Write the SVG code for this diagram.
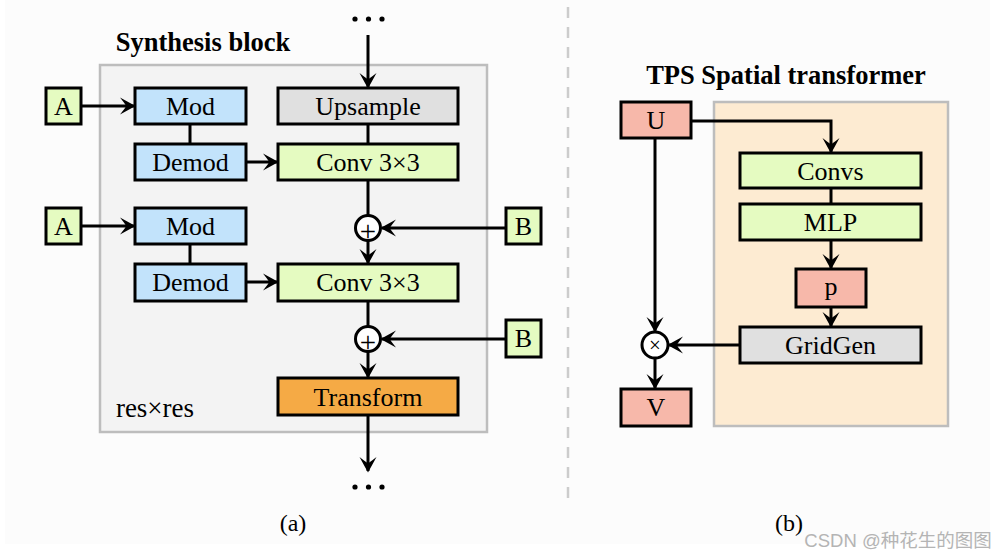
<svg xmlns="http://www.w3.org/2000/svg" width="994" height="558" viewBox="0 0 994 558">
<style>
.t{font-family:"Liberation Serif","Times New Roman",serif;font-size:26px;fill:#000;text-anchor:middle}
.tb{font-family:"Liberation Serif","Times New Roman",serif;font-size:26.5px;font-weight:bold;fill:#000;text-anchor:middle}
.box{stroke:#000;stroke-width:3}
.green{fill:#e5fbc1}
.blue{fill:#c2e3fb}
.gray{fill:#e0e0e0}
.orange{fill:#f5aa45}
.salmon{fill:#f7b8aa}
.ln{stroke:#000;stroke-width:3;fill:none}
.arr{stroke:#000;stroke-width:3;fill:none;marker-end:url(#ah)}
.plus{font-family:"Liberation Serif","Times New Roman",serif;font-size:29px;fill:#000;text-anchor:middle}
</style>
<defs>
<marker id="ah" markerUnits="userSpaceOnUse" viewBox="-17 -10 19 20" refX="0" refY="0" markerWidth="19" markerHeight="20" orient="auto">
<path d="M1.5,0 L-14,-8.5 Q-8,-1 -8,0 Q-8,1 -14,8.5 Z" fill="#000"/>
</marker>
</defs>
<rect x="5" y="0" width="985" height="544" fill="#fcfcfc"/>
<line x1="568" y1="7" x2="568" y2="501" stroke="#cccccc" stroke-width="2.5" stroke-dasharray="11 9"/>

<g id="synthesis-block">
<rect x="100" y="65" width="387" height="367" fill="#f3f3f3" stroke="#bdbdbd" stroke-width="2.5"/>
<text class="tb" x="203" y="51">Synthesis block</text>
<text class="t" x="155" y="417" style="font-size:27px">res×res</text>
</g>
<g id="tps-block">
<rect x="714" y="102" width="234" height="324" fill="#fdebd2" stroke="#bdbdbd" stroke-width="2.5"/>
<text class="tb" x="786" y="84">TPS Spatial transformer</text>
</g>

<g id="connectors">
<path class="arr" d="M368,35 V87"/>
<path class="arr" d="M81,106 H134"/>
<path class="ln" d="M190,124 V144"/>
<path class="arr" d="M246,162 H277"/>
<path class="ln" d="M368,124 V144"/>
<path class="ln" d="M368,180 V215"/>
<path class="arr" d="M506,228 H382"/>
<path class="arr" d="M368,241 V263"/>
<path class="arr" d="M81,226 H134"/>
<path class="ln" d="M190,244 V264"/>
<path class="arr" d="M246,282 H277"/>
<path class="ln" d="M368,301 V326"/>
<path class="arr" d="M506,339 H382"/>
<path class="arr" d="M368,352 V377"/>
<path class="arr" d="M368,415 V471"/>
<path class="arr" d="M691,121 H831 V152"/>
<path class="ln" d="M831,188 V204"/>
<path class="arr" d="M831,240 V268"/>
<path class="arr" d="M831,307 V326"/>
<path class="arr" d="M740,345 H669"/>
<path class="arr" d="M655,138 V331"/>
<path class="arr" d="M655,359 V388"/>
</g>

<g id="dots-top"><circle cx="355" cy="19" r="2.6"/><circle cx="368.5" cy="19" r="2.6"/><circle cx="382" cy="19" r="2.6"/></g>
<g id="dots-bottom"><circle cx="355" cy="487" r="2.6"/><circle cx="368.5" cy="487" r="2.6"/><circle cx="382" cy="487" r="2.6"/></g>

<g id="A1"><rect class="box green" x="46" y="88" width="35" height="36"/><text class="t" x="63.5" y="115">A</text></g>
<g id="Mod1"><rect class="box blue" x="135" y="88" width="111" height="36"/><text class="t" x="190.5" y="115">Mod</text></g>
<g id="Upsample"><rect class="box gray" x="278" y="88" width="180" height="36"/><text class="t" x="368" y="115">Upsample</text></g>
<g id="Demod1"><rect class="box blue" x="135" y="144" width="111" height="36"/><text class="t" x="190.5" y="171">Demod</text></g>
<g id="Conv1"><rect class="box green" x="278" y="144" width="180" height="36"/><text class="t" x="368" y="171">Conv 3×3</text></g>
<g id="Plus1"><circle class="box" cx="368" cy="228" r="12.5" fill="#fff"/><text class="plus" x="368" y="241">+</text></g>
<g id="B1"><rect class="box green" x="506" y="208" width="35" height="36"/><text class="t" x="523.5" y="235">B</text></g>
<g id="A2"><rect class="box green" x="46" y="208" width="35" height="36"/><text class="t" x="63.5" y="235">A</text></g>
<g id="Mod2"><rect class="box blue" x="135" y="208" width="111" height="36"/><text class="t" x="190.5" y="235">Mod</text></g>
<g id="Demod2"><rect class="box blue" x="135" y="264" width="111" height="37"/><text class="t" x="190.5" y="291">Demod</text></g>
<g id="Conv2"><rect class="box green" x="278" y="264" width="180" height="37"/><text class="t" x="368" y="291">Conv 3×3</text></g>
<g id="Plus2"><circle class="box" cx="368" cy="339" r="12.5" fill="#fff"/><text class="plus" x="368" y="352">+</text></g>
<g id="B2"><rect class="box green" x="506" y="320" width="35" height="37"/><text class="t" x="523.5" y="347">B</text></g>
<g id="Transform"><rect class="box orange" x="278" y="378" width="180" height="37"/><text class="t" x="368" y="406">Transform</text></g>

<g id="U"><rect class="box salmon" x="621" y="102" width="70" height="36"/><text class="t" x="656" y="129">U</text></g>
<g id="Convs"><rect class="box green" x="740" y="153" width="181" height="35"/><text class="t" x="830.5" y="180">Convs</text></g>
<g id="MLP"><rect class="box green" x="740" y="204" width="181" height="36"/><text class="t" x="830.5" y="231">MLP</text></g>
<g id="p"><rect class="box salmon" x="796" y="269" width="70" height="38"/><text class="t" x="831" y="295">p</text></g>
<g id="GridGen"><rect class="box gray" x="740" y="327" width="181" height="36"/><text class="t" x="830.5" y="354">GridGen</text></g>
<g id="Times"><circle class="box" cx="655" cy="345" r="13" fill="#fff"/><text class="t" x="655" y="352" style="font-size:21px">×</text></g>
<g id="V"><rect class="box salmon" x="621" y="389" width="70" height="37"/><text class="t" x="656" y="416">V</text></g>

<text class="t" x="293" y="531" style="font-size:24px">(a)</text>
<text class="t" x="789" y="531" style="font-size:24px">(b)</text>
<text x="898" y="547" style="font-family:'Liberation Sans','Noto Sans CJK SC',sans-serif;font-size:18.5px;fill:#b4b4b4;text-anchor:middle">CSDN @种花生的图图</text>
</svg>
